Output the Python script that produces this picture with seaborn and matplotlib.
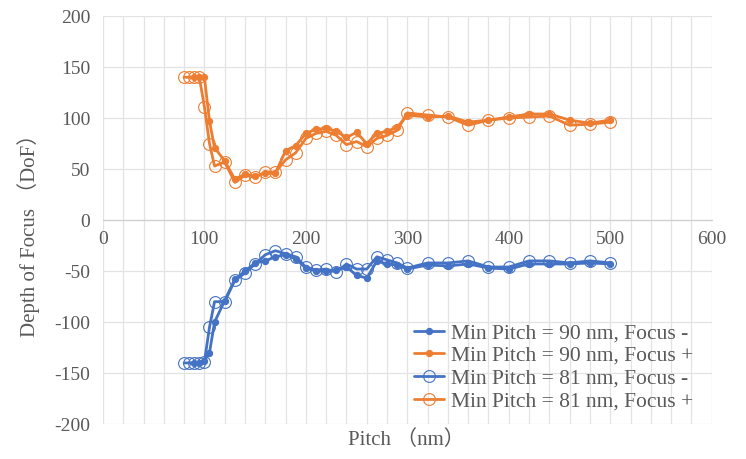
import numpy as np
import pandas as pd
import matplotlib
matplotlib.use("Agg")
import matplotlib.pyplot as plt
from matplotlib.ticker import MultipleLocator
import seaborn as sns

# Pitch values (nm)
pitch_90 = [90, 95, 100, 105, 110, 120, 130, 140, 150, 160, 170, 180, 190, 200,
            210, 220, 230, 240, 250, 260, 270, 280, 290, 300, 320, 340, 360, 380,
            400, 420, 440, 460, 480, 500]
pitch_81 = [80, 85, 90, 95, 100, 105, 110, 120, 130, 140, 150, 160, 170, 180, 190,
            200, 210, 220, 230, 240, 250, 260, 270, 280, 290, 300, 320, 340, 360,
            380, 400, 420, 440, 460, 480, 500]

# Depth of focus, Min Pitch = 90 nm
dof_90_minus = [-140, -140, -138, -130, -100, -79, -58, -50, -42, -40, -36, -34, -38, -47,
                -50, -50, -49, -46, -54, -57, -40, -43, -44, -48, -44, -45, -43, -47,
                -48, -43, -43, -43, -42, -43]
dof_90_plus = [140, 140, 140, 97, 71, 58, 40, 45, 43, 46, 46, 68, 73, 85,
               89, 90, 87, 81, 86, 75, 85, 87, 91, 103, 101, 102, 96, 98,
               101, 104, 104, 98, 95, 98]

# Depth of focus, Min Pitch = 81 nm
dof_81_minus = [-140, -140, -140, -140, -139, -105, -80, -80, -59, -52, -43, -34, -30, -33, -36,
                -46, -49, -48, -51, -43, -48, -48, -36, -39, -42, -47, -42, -42, -40,
                -46, -46, -40, -40, -42, -40, -42]
dof_81_plus = [140, 140, 140, 140, 111, 75, 53, 57, 37, 44, 42, 47, 47, 59, 66,
               80, 85, 87, 83, 74, 77, 72, 80, 83, 88, 105, 103, 101, 93,
               98, 100, 101, 102, 93, 94, 96]

labels = ["Min Pitch = 90 nm, Focus -", "Min Pitch = 90 nm, Focus +",
          "Min Pitch = 81 nm, Focus -", "Min Pitch = 81 nm, Focus +"]

frames = [
    pd.DataFrame({"pitch": pitch_90, "dof": dof_90_minus, "series": labels[0]}),
    pd.DataFrame({"pitch": pitch_90, "dof": dof_90_plus, "series": labels[1]}),
    pd.DataFrame({"pitch": pitch_81, "dof": dof_81_minus, "series": labels[2]}),
    pd.DataFrame({"pitch": pitch_81, "dof": dof_81_plus, "series": labels[3]}),
]
df = pd.concat(frames, ignore_index=True)

sns.set_theme(style="white")
plt.rcParams["font.family"] = ["Liberation Serif", "Noto Sans CJK SC"]
plt.rcParams["axes.unicode_minus"] = False
text_color = "#595959"
grid_color = "#E3E3E3"

fig = plt.figure(figsize=(7.46, 4.59), dpi=100)
ax = fig.add_axes([0.138, 0.076, 0.816, 0.889])

blue = "#4472C4"
orange = "#ED7D31"
styles = [
    dict(color=blue, marker="o", markersize=4.5, markerfacecolor=blue, markeredgecolor=blue),
    dict(color=orange, marker="o", markersize=4.5, markerfacecolor=orange, markeredgecolor=orange),
    dict(color=blue, marker="o", markersize=8.5, markerfacecolor="none", markeredgecolor=blue,
         markeredgewidth=0.8),
    dict(color=orange, marker="o", markersize=8.5, markerfacecolor="none", markeredgecolor=orange,
         markeredgewidth=0.8),
]

for lab, st in zip(labels, styles):
    sns.lineplot(data=df[df["series"] == lab], x="pitch", y="dof", ax=ax, label=lab,
                 linewidth=2.0, sort=True, estimator=None, zorder=3, **st)

ax.set_xlim(0, 600)
ax.set_ylim(-200, 200)
ax.xaxis.set_major_locator(MultipleLocator(100))
ax.xaxis.set_minor_locator(MultipleLocator(20))
ax.yaxis.set_major_locator(MultipleLocator(50))

ax.grid(True, which="major", axis="both", color=grid_color, linewidth=0.9, zorder=0)
ax.grid(True, which="minor", axis="x", color=grid_color, linewidth=0.9, zorder=0)
ax.set_axisbelow(True)

for side in ["top", "right", "left"]:
    ax.spines[side].set_visible(False)
ax.spines["bottom"].set_position(("data", 0))
ax.spines["bottom"].set_color("#D0D0D0")
ax.spines["bottom"].set_linewidth(0.9)

ax.tick_params(axis="x", which="both", length=0, pad=8, labelsize=14, labelcolor=text_color)
ax.tick_params(axis="y", which="both", length=0, pad=9, labelsize=14, labelcolor=text_color)

ax.set_xlabel("")
ax.set_ylabel("")
fig.text(0.545, 0.041, "Pitch （nm）", ha="center", va="center", fontsize=15, color=text_color)
fig.text(0.038, 0.497, "Depth of Focus （DoF）", ha="center", va="center", rotation=90,
         fontsize=15, color=text_color)

leg = ax.legend(loc="lower right", bbox_to_anchor=(0.995, -0.005), frameon=False, fontsize=15.5,
                labelspacing=0.12, handlelength=1.4, handletextpad=0.35, borderpad=0.2)
for t in leg.get_texts():
    t.set_color(text_color)

fig.savefig("out.png", dpi=100)
